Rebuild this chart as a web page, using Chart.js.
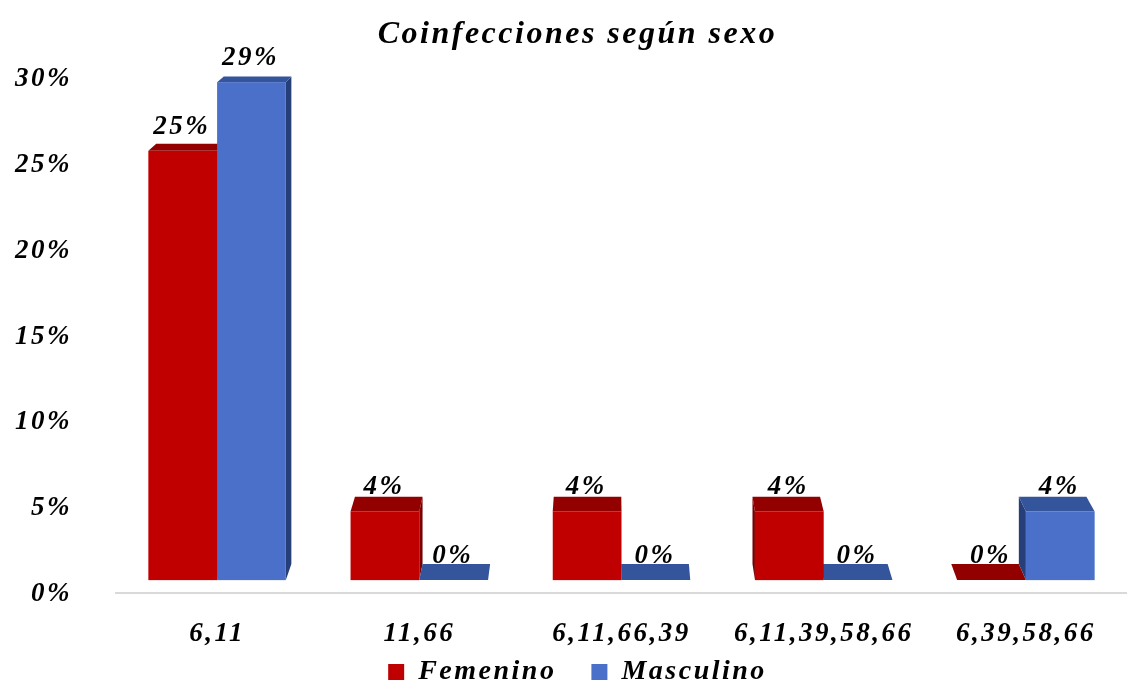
<!DOCTYPE html>
<html>
<head>
<meta charset="utf-8">
<script src="https://cdn.jsdelivr.net/npm/chart.js@4"></script>
<style>
html, body { margin: 0; padding: 0; background: #fff; }
#wrap { width: 1127px; height: 686px; }
</style>
</head>
<body>
<div id="wrap"><canvas id="coinfChart"></canvas></div>
<script>
const categories = ['6,11', '11,66', '6,11,66,39', '6,11,39,58,66', '6,39,58,66'];
const femenino = [25, 4, 4, 4, 0];
const masculino = [29, 0, 0, 0, 4];
const yTicks = [0, 5, 10, 15, 20, 25, 30];
const seriesNames = ['Femenino', 'Masculino'];

const frontColors = ['#c00000', '#4a70c9'];
const topColors = ['#920000', '#34549b'];
const sideColors = ['#7a0000', '#263f78'];
const FONT = '"Liberation Serif", "Times New Roman", serif';
const SPACING = '2.5px';

// fake 3D: back face pulled toward a vanishing point
function backPoint(x, y) {
    return [x - 0.017 * (x - 610), y - 0.021 * (y + 186)];
}

// the reference text runs wider than Liberation Serif, so space the letters a bit
const wideText = {
    id: 'wideText',
    beforeLayout(chart) { chart.ctx.letterSpacing = SPACING; },
    // let the y labels use the left padding strip without being clipped
    afterLayout(chart) { chart.scales.y.left = 0; },
    beforeDraw(chart) { chart.ctx.letterSpacing = SPACING; }
};

const depth3d = {
    id: 'depth3d',
    beforeDatasetsDraw(chart) {
        const ctx = chart.ctx;
        const bars = [];
        chart.data.datasets.forEach((ds, di) => {
            chart.getDatasetMeta(di).data.forEach((bar, i) => {
                bars.push({ di, bar, value: ds.data[i] });
            });
        });

        const poly = (pts, color) => {
            ctx.beginPath();
            ctx.moveTo(pts[0][0], pts[0][1]);
            pts.slice(1).forEach(p => ctx.lineTo(p[0], p[1]));
            ctx.closePath();
            ctx.fillStyle = color;
            ctx.fill();
        };

        ctx.save();
        // side and top faces first
        bars.forEach(({ di, bar }) => {
            const l = bar.x - bar.width / 2, r = bar.x + bar.width / 2;
            const t = bar.y, b = bar.base;
            const rb = backPoint(r, b), rt = backPoint(r, t);
            const lb = backPoint(l, b), lt = backPoint(l, t);
            if (rt[0] > r) {
                poly([[r, t], [r, b], rb, rt], sideColors[di]);
            } else if (lt[0] < l) {
                poly([[l, t], [l, b], lb, lt], sideColors[di]);
            }
            poly([[l, t], [r, t], rt, lt], topColors[di]);
        });
        // front faces
        bars.forEach(({ di, bar }) => {
            const l = bar.x - bar.width / 2;
            ctx.fillStyle = frontColors[di];
            ctx.fillRect(l, bar.y, bar.width, bar.base - bar.y);
        });
        // value labels
        ctx.fillStyle = '#000';
        ctx.font = 'italic bold 27px ' + FONT;
        ctx.letterSpacing = SPACING;
        ctx.textAlign = 'center';
        ctx.textBaseline = 'alphabetic';
        bars.forEach(({ bar, value }) => {
            ctx.fillText(Math.round(value) + '%', bar.x - 1, bar.y - 17);
        });
        ctx.restore();
        return false;
    }
};

const ctx = document.getElementById('coinfChart').getContext('2d');
new Chart(ctx, {
    type: 'bar',
    data: {
        labels: categories,
        datasets: [
            { label: seriesNames[0], data: femenino, backgroundColor: frontColors[0] },
            { label: seriesNames[1], data: masculino, backgroundColor: frontColors[1] }
        ]
    },
    options: {
        responsive: true,
        maintainAspectRatio: false,
        animation: false,
        categoryPercentage: 0.68,
        barPercentage: 1.0,
        layout: { padding: { left: 28, right: 0, top: 0, bottom: -10 } },
        plugins: {
            title: {
                display: true,
                text: 'Coinfecciones según sexo',
                color: '#000',
                font: { family: FONT, size: 32, style: 'italic', weight: 'bold' },
                padding: { top: 16, bottom: 2 }
            },
            legend: {
                position: 'bottom',
                labels: {
                    color: '#000',
                    boxWidth: 16,
                    boxHeight: 16,
                    padding: 9,
                    font: { family: FONT, size: 28, style: 'italic', weight: 'bold' },
                    generateLabels: chart => {
                        const items = Chart.defaults.plugins.legend.labels.generateLabels(chart);
                        // widen the gap between the two entries
                        items[0].text = items[0].text + ' \u2002';
                        return items;
                    }
                }
            },
            tooltip: { enabled: false }
        },
        scales: {
            x: {
                grid: { display: false },
                border: { display: true, color: '#d9d9d9', width: 2 },
                ticks: {
                    color: '#000',
                    padding: 17,
                    font: { family: FONT, size: 27, style: 'italic', weight: 'bold' }
                },
                afterFit: scale => { scale.height = 56; }
            },
            y: {
                min: -0.75,
                max: 30.5,
                grid: { display: false },
                border: { display: false },
                afterBuildTicks: scale => { scale.ticks = yTicks.map(v => ({ value: v })); },
                afterFit: scale => { scale.width = 88; },
                ticks: {
                    color: '#000',
                    padding: 36,
                    labelOffset: 14,
                    font: { family: FONT, size: 27, style: 'italic', weight: 'bold' },
                    callback: v => v + '%'
                }
            }
        }
    },
    plugins: [wideText, depth3d]
});
</script>
</body>
</html>
